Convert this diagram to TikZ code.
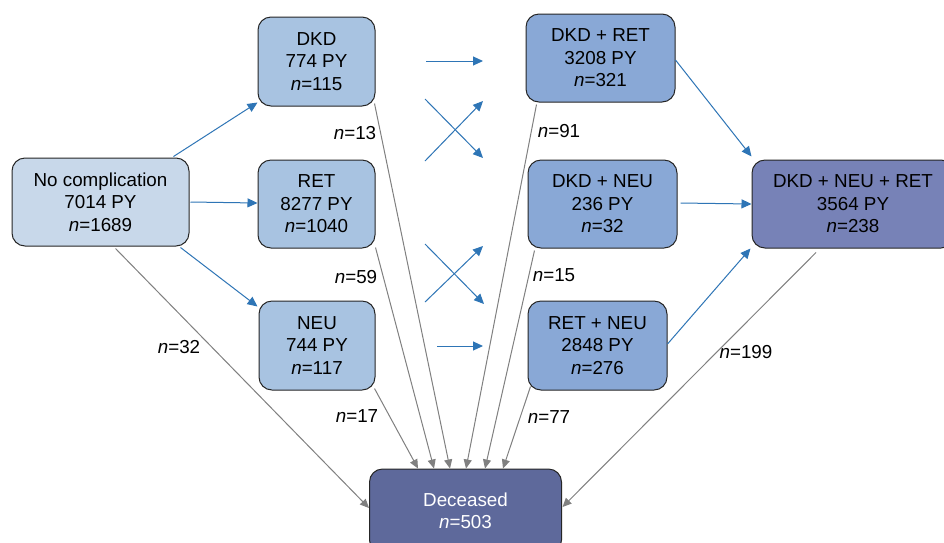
\documentclass[tikz,border=0pt]{standalone}
\usepackage{fontspec}
\setmainfont{Liberation Sans}
\usetikzlibrary{arrows.meta,calc}
\definecolor{blueline}{HTML}{2E75B6}
\definecolor{grayline}{HTML}{808080}
\definecolor{fillnone}{HTML}{C8D8EA}
\definecolor{fillone}{HTML}{A8C3E1}
\definecolor{filltwo}{HTML}{89A8D6}
\definecolor{fillthree}{HTML}{7782B7}
\definecolor{filldead}{HTML}{5E699B}
\begin{document}
\begin{tikzpicture}[x=1pt,y=-1pt,
  box/.style={draw=black!85,line width=1pt,rounded corners=13pt,align=center,inner sep=0pt,
    font=\fontsize{18.8}{22.5}\selectfont},
  lbl/.style={inner sep=0pt,font=\fontsize{18.8}{22.5}\selectfont},
  bluearrow/.style={draw=blueline,line width=1pt,-{Triangle[length=10pt,width=9pt]}},
  grayarrow/.style={draw=grayline,line width=1pt,-{Triangle[length=9pt,width=8pt]}}
]
\clip (0,0) rectangle (944,542);
\fill[white] (0,0) rectangle (944,542);

% boxes
\node[box,fill=fillnone,minimum width=177pt,minimum height=88pt] (nc) at (100.5,202) {No complication\\7014 PY\\\textit{n}=1689};
\node[box,fill=fillone,minimum width=117pt,minimum height=89pt] (dkd) at (316.5,61.5) {DKD\\774 PY\\\textit{n}=115};
\node[box,fill=fillone,minimum width=117pt,minimum height=88pt] (ret) at (316.5,204) {RET\\8277 PY\\\textit{n}=1040};
\node[box,fill=fillone,minimum width=116pt,minimum height=89pt] (neu) at (317,345.5) {NEU\\744 PY\\\textit{n}=117};
\node[box,fill=filltwo,minimum width=149pt,minimum height=88pt] (dr) at (600.5,58) {DKD + RET\\3208 PY\\\textit{n}=321};
\node[box,fill=filltwo,minimum width=149pt,minimum height=88pt] (dn) at (602.5,204) {DKD + NEU\\236 PY\\\textit{n}=32};
\node[box,fill=filltwo,minimum width=139pt,minimum height=89pt] (rn) at (597.5,345.5) {RET + NEU\\2848 PY\\\textit{n}=276};
\node[box,fill=fillthree,minimum width=202pt,minimum height=88pt] (dnr) at (853,204) {DKD + NEU + RET\\3564 PY\\\textit{n}=238};
\node[box,fill=filldead,text=white,minimum width=192pt,minimum height=84pt] (dec) at (465.5,511) {Deceased\\\textit{n}=503};

% free transition arrows
\coordinate (h1s) at (426,61);   \coordinate (h1e) at (483,61);
\coordinate (x1a) at (425,99);   \coordinate (x1b) at (483,158);
\coordinate (x1c) at (425,161);  \coordinate (x1d) at (483,101);
\coordinate (x2a) at (425,244);  \coordinate (x2b) at (484,304);
\coordinate (x2c) at (425,302);  \coordinate (x2d) at (483,246);
\coordinate (h2s) at (437,346);  \coordinate (h2e) at (483,346);
\draw[bluearrow] (h1s) -- (h1e);
\draw[bluearrow] (x1a) -- (x1b);
\draw[bluearrow] (x1c) -- (x1d);
\draw[bluearrow] (x2a) -- (x2b);
\draw[bluearrow] (x2c) -- (x2d);
\draw[bluearrow] (h2s) -- (h2e);

% blue transitions
\draw[bluearrow] ($(nc.north)+(73,-1)$) -- ($(dkd.south west)+(0,-4)$);
\draw[bluearrow] ($(nc.east)+(1,0)$) -- ($(ret.west)+(0,-1)$);
\draw[bluearrow] ($(nc.south)+(80,1)$) -- ($(neu.north west)+(-1,6)$);
\draw[bluearrow] ($(dr.east)+(0,2)$) -- ($(dnr.north west)+(0,-3)$);
\draw[bluearrow] ($(dn.east)+(3,-1)$) -- (dnr.west);
\draw[bluearrow] ($(rn.east)+(0,-1.5)$) -- ($(dnr.south west)+(-1,0)$);

% gray arrows to deceased
\draw[grayarrow] ($(nc.south)+(15,2)$) -- ($(dec.west)+(0,-3)$);
\draw[grayarrow] ($(neu.south east)+(-1,-2)$) -- ($(dec.north)+(-47.5,0)$);
\draw[grayarrow] ($(ret.south east)+(0,-1)$) -- ($(dec.north)+(-31.5,0)$);
\draw[grayarrow] ($(dkd.south east)+(-1,-3)$) -- ($(dec.north)+(-15.5,0)$);
\draw[grayarrow] ($(dr.south west)+(11,2)$) -- ($(dec.north)+(0.5,0)$);
\draw[grayarrow] ($(dn.south west)+(7,2)$) -- ($(dec.north)+(19.5,0)$);
\draw[grayarrow] ($(rn.south west)+(3,-4)$) -- ($(dec.north)+(37.5,0)$);
\draw[grayarrow] ($(dnr.south)+(-37,4)$) -- ($(dec.east)+(0.5,-4)$);

% labels
\node[lbl] (l13) at (355,133) {\textit{n}=13};
\node[lbl] (l59) at (356,277) {\textit{n}=59};
\node[lbl] (l17) at (357,416) {\textit{n}=17};
\node[lbl] (l32) at (179,347) {\textit{n}=32};
\node[lbl] (l91) at (559,131) {\textit{n}=91};
\node[lbl] (l15) at (554,275) {\textit{n}=15};
\node[lbl] (l77) at (549,417) {\textit{n}=77};
\node[lbl] (l199) at (746,352) {\textit{n}=199};
\end{tikzpicture}
\end{document}
